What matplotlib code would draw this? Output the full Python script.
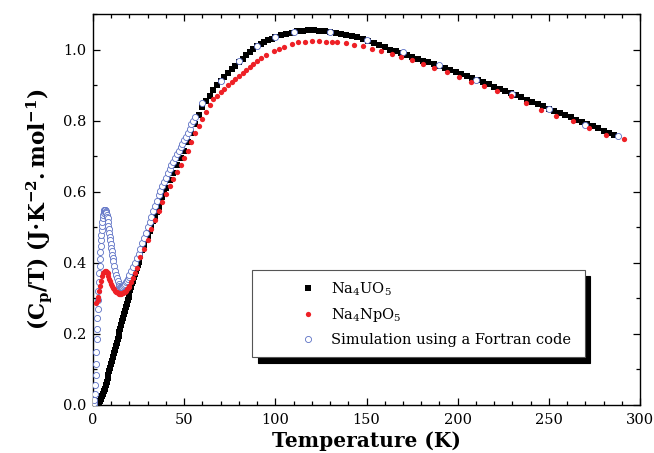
import matplotlib
matplotlib.use('Agg')
import matplotlib.pyplot as plt
from matplotlib.ticker import MultipleLocator

plt.rcParams['font.family'] = ['DejaVu Serif']
plt.rcParams['mathtext.fontset'] = 'dejavuserif'

# Na4UO5 (black squares)
temp_u = [2, 2.5, 3, 3.5, 4, 4.5, 5, 5.5, 6, 6.5, 7, 7.5, 8, 8.5, 9, 9.5, 10, 10.5,
          11, 11.5, 12, 12.5, 13, 13.5, 14, 14.5, 15, 15.5, 16, 16.5, 17, 17.5, 18, 18.5,
          19, 19.5, 20, 20.5, 21, 21.5, 22, 22.5, 23, 23.5, 24, 24.5,
          25, 26, 27, 28, 29, 30, 31, 32, 33, 34, 35, 36, 37, 38, 39, 40,
          42, 44, 46, 48, 50, 52, 54, 56, 58, 60, 62, 64, 66, 68, 70, 72, 74, 76, 78, 80,
          82, 84, 86, 88, 90, 92, 94, 96, 98, 100,
          103, 106, 109, 112, 115, 118, 121, 124, 127, 130, 133, 136, 139, 142, 145, 148,
          151, 154, 157, 160, 163, 166, 169, 172, 175, 178, 181, 184, 187, 190, 193, 196,
          199, 202, 205, 208, 211, 214, 217, 220, 223, 226, 229, 232, 235, 238, 241, 244,
          247, 250, 253, 256, 259, 262, 265, 268, 271, 274, 277, 280, 283, 286]
cp_u = [0.0, 0.002, 0.004, 0.008, 0.012, 0.018, 0.024, 0.031, 0.038, 0.046, 0.055, 0.065,
        0.075, 0.085, 0.095, 0.105, 0.115, 0.125, 0.135, 0.145, 0.155, 0.165, 0.175,
        0.185, 0.195, 0.205, 0.215, 0.225, 0.235, 0.245, 0.255, 0.265, 0.275, 0.285,
        0.295, 0.305, 0.315, 0.324, 0.333, 0.342, 0.35, 0.359, 0.368, 0.377, 0.385, 0.394,
        0.402, 0.419, 0.435, 0.45, 0.463, 0.476, 0.49, 0.504,
        0.517, 0.53, 0.543, 0.556, 0.57, 0.584, 0.597, 0.61,
        0.633, 0.654, 0.674, 0.694, 0.715, 0.74, 0.765, 0.79, 0.815, 0.838, 0.855, 0.87,
        0.885, 0.9, 0.913, 0.924, 0.934, 0.944, 0.954, 0.964,
        0.974, 0.984, 0.994, 1.002, 1.009, 1.015, 1.021, 1.026, 1.031, 1.035,
        1.04, 1.044, 1.048, 1.051, 1.053, 1.054, 1.054, 1.053, 1.052, 1.049, 1.046, 1.043,
        1.04, 1.037, 1.034, 1.03,
        1.025, 1.019, 1.013, 1.006, 1.0, 0.995, 0.99, 0.985, 0.979, 0.974, 0.969, 0.964,
        0.959, 0.954, 0.948, 0.942,
        0.937, 0.931, 0.925, 0.92, 0.914, 0.908, 0.902, 0.896, 0.89, 0.884, 0.878, 0.872,
        0.866, 0.859, 0.853, 0.847,
        0.84, 0.834, 0.828, 0.821, 0.815, 0.809, 0.802, 0.796, 0.79, 0.784, 0.778, 0.772,
        0.766, 0.76]

# Na4NpO5 (red dots)
temp_np = [1.8, 2.5, 3, 3.5, 4, 4.5, 5, 5.5, 6, 6.5, 7, 7.5, 8, 8.5, 9, 9.5, 10, 10.5,
           11, 11.5, 12, 12.5, 13, 13.5, 14, 14.5, 15, 15.5, 16, 16.5, 17, 17.5, 18, 18.5,
           19, 19.5, 20, 21, 22, 23, 24, 26, 28, 30, 32, 34, 36, 38, 40, 42, 44, 46, 48,
           50, 52, 54, 56, 58, 60, 62, 64, 66, 68, 70, 72, 74, 76, 78, 80, 82, 84, 86, 88,
           90, 92, 95, 99, 102, 105, 109, 112.5, 116, 120, 124, 128, 131, 134, 139, 143,
           148, 153, 158, 164, 169, 175, 181, 187, 194, 201, 207.5, 214.5, 221.5, 229.5,
           237.5, 245.5, 254, 263, 272, 281.5, 291]
cp_np = [0.287, 0.295, 0.305, 0.32, 0.335, 0.35, 0.362, 0.37, 0.375, 0.377, 0.377, 0.375,
         0.37, 0.363, 0.355, 0.348, 0.341, 0.335, 0.33, 0.326, 0.322, 0.319, 0.317, 0.315,
         0.314, 0.313, 0.313, 0.313, 0.314, 0.315, 0.317, 0.319, 0.322, 0.325, 0.328,
         0.332, 0.336, 0.345, 0.357, 0.37, 0.385, 0.415, 0.44, 0.465, 0.495, 0.52, 0.545,
         0.57, 0.595, 0.615, 0.635, 0.655, 0.675, 0.695, 0.715, 0.74, 0.765, 0.785, 0.805,
         0.825, 0.845, 0.86, 0.87, 0.88, 0.89, 0.9, 0.91, 0.918, 0.925, 0.935, 0.943,
         0.95, 0.96, 0.968, 0.975, 0.985, 0.995, 1.002, 1.008, 1.015, 1.02, 1.022, 1.023,
         1.023, 1.022, 1.021, 1.02, 1.018, 1.014, 1.009, 1.003, 0.997, 0.988, 0.98, 0.971,
         0.96, 0.948, 0.938, 0.924, 0.91, 0.897, 0.883, 0.868, 0.851, 0.831, 0.813, 0.798,
         0.778, 0.761, 0.747]

# Fortran simulation (open circles)
temp_sim = [0.4, 0.6, 0.8, 1.0, 1.2, 1.4, 1.6, 1.8, 2.0, 2.2, 2.4, 2.6, 2.8, 3.0, 3.2,
            3.4, 3.6, 3.8, 4.0, 4.2, 4.4, 4.6, 4.8, 5.0, 5.2, 5.4, 5.6, 5.8, 6.0, 6.2,
            6.4, 6.6, 6.8, 7.0, 7.2, 7.4, 7.6, 7.8, 8.0, 8.25, 8.5, 8.75, 9.0, 9.25, 9.5,
            9.75, 10, 10.25, 10.5, 10.75, 11, 11.5, 12, 12.5, 13, 13.5, 14, 14.5, 15,
            15.5, 16, 16.5, 17, 17.5, 18, 18.5, 19, 19.5, 20, 21, 22, 23, 24, 25, 26, 27,
            28, 29, 30, 31, 32, 33, 34, 35, 36, 37, 38, 39, 40, 41, 42, 43, 44, 45, 46, 47,
            48, 49, 50, 51, 52, 53, 54, 55, 56, 60, 70, 80, 90, 100, 110, 130, 150, 170,
            190, 210, 230, 250, 270, 288]
cp_sim = [0.0, 0.005, 0.015, 0.03, 0.055, 0.085, 0.115, 0.15, 0.185, 0.215, 0.245, 0.27,
          0.295, 0.32, 0.345, 0.37, 0.39, 0.41, 0.43, 0.447, 0.463, 0.478, 0.492, 0.505,
          0.516, 0.526, 0.534, 0.541, 0.545, 0.548, 0.55, 0.55, 0.549, 0.547, 0.544, 0.54,
          0.535, 0.53, 0.525, 0.515, 0.505, 0.495, 0.485, 0.474, 0.463, 0.452, 0.442,
          0.432, 0.422, 0.413, 0.405, 0.39, 0.377, 0.366,
          0.356, 0.348, 0.341, 0.336, 0.333, 0.332, 0.332, 0.334, 0.337, 0.341, 0.345,
          0.35, 0.355, 0.36, 0.365, 0.376, 0.387, 0.4, 0.413, 0.426, 0.44, 0.455, 0.47,
          0.485, 0.5, 0.515, 0.53, 0.545, 0.56, 0.575, 0.59, 0.603, 0.615, 0.628, 0.64,
          0.653, 0.665, 0.675, 0.685, 0.695, 0.705, 0.715, 0.725, 0.735, 0.745, 0.755,
          0.765, 0.777, 0.79, 0.8, 0.81, 0.85, 0.912, 0.967, 1.011, 1.036, 1.049, 1.05,
          1.028, 0.994, 0.957, 0.915, 0.874, 0.833, 0.789, 0.756]

fig = plt.figure(figsize=(6.54, 4.53), dpi=100)
ax = fig.add_axes([0.1422, 0.106, 0.8364, 0.863])

ax.plot(temp_u, cp_u, linestyle='none', marker='s', ms=4.0, color='black',
        markeredgewidth=0, label=r'Na$_4$UO$_5$', zorder=2)
ax.plot(temp_sim, cp_sim, linestyle='none', marker='o', ms=4.4, markerfacecolor='white',
        markeredgecolor='#5b6fc4', markeredgewidth=0.6,
        label='Simulation using a Fortran code', zorder=3)
ax.plot(temp_np, cp_np, linestyle='none', marker='o', ms=3.8, color='#ee2026',
        markeredgewidth=0, label=r'Na$_4$NpO$_5$', zorder=4)

ax.set_xlim(0, 300)
ax.set_ylim(0, 1.1)
ax.xaxis.set_major_locator(MultipleLocator(50))
ax.xaxis.set_minor_locator(MultipleLocator(10))
ax.yaxis.set_major_locator(MultipleLocator(0.2))
ax.yaxis.set_minor_locator(MultipleLocator(0.1))
ax.yaxis.set_major_formatter(matplotlib.ticker.FormatStrFormatter('%.1f'))
ax.tick_params(which='both', direction='in', top=True, right=True, labelsize=10.5,
               width=0.9)
ax.tick_params(axis='x', pad=6)
ax.tick_params(axis='y', pad=5)
ax.tick_params(which='major', length=5)
ax.tick_params(which='minor', length=3)
for s in ax.spines.values():
    s.set_linewidth(1.0)

ax.set_xlabel('Temperature (K)', fontsize=14.5, fontweight='bold', labelpad=3)
ax.set_ylabel(r'$\mathbf{(C_p/T)\ (J{\cdot}K^{-2}.mol^{-1})}$', fontsize=15.5, labelpad=6)

handles, labels = ax.get_legend_handles_labels()
order = [0, 2, 1]
leg = ax.legend([handles[i] for i in order], [labels[i] for i in order],
                loc='upper left', bbox_to_anchor=(0.291, 0.128, 0.608, 0.217),
                mode='expand', borderaxespad=0, fontsize=10.5, handlelength=6.3,
                handletextpad=-1.6, labelspacing=0.6, borderpad=0.7, fancybox=False,
                framealpha=1, edgecolor='#555555',
                shadow={'ox': 4, 'oy': -4, 'color': 'black', 'alpha': 1})
leg.get_frame().set_linewidth(0.8)

fig.savefig('out.png', dpi=100)
